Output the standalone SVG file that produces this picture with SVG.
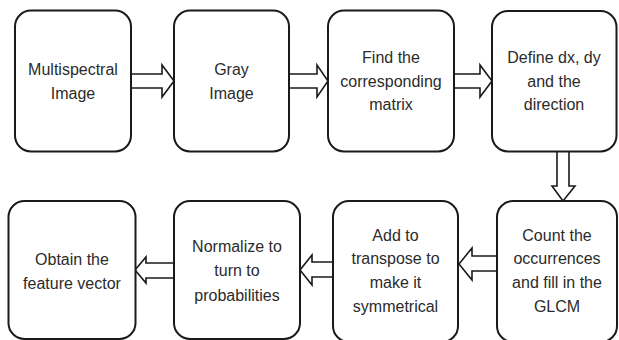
<svg xmlns="http://www.w3.org/2000/svg" width="619" height="340" viewBox="0 0 619 340">
<style>
.box{fill:#fff;stroke:#1a1a1a;stroke-width:2}
.arr{fill:#fff;stroke:#1a1a1a;stroke-width:1.6;stroke-linejoin:miter}
text{font-family:"Liberation Sans",Arial,sans-serif;font-size:16px;fill:#2b2b2b;text-anchor:middle}
</style>
<rect width="619" height="340" fill="#fff"/>
<g id="connectors">
<polygon class="arr" points="131,74 162,74 162,65 174,81 162,97 162,88 131,88"/>
<polygon class="arr" points="289,74 317,74 317,65 328,81 317,97 317,88 289,88"/>
<polygon class="arr" points="454,74 480,74 480,65 492,81 480,97 480,88 454,88"/>
<polygon class="arr" points="557,151 557,186 552,186 563,201 575,186 569,186 569,151"/>
<polygon class="arr" points="497,256 472,256 472,248 459,264 472,280 472,271 497,271"/>
<polygon class="arr" points="333,262 312,262 312,255 300,270 312,285 312,277 333,277"/>
<polygon class="arr" points="174,263 146,263 146,257 135,270 146,283 146,278 174,278"/>
</g>
<g id="n1"><rect class="box" x="15" y="10.5" width="116" height="141" rx="16"/>
<text x="73" y="75">Multispectral</text><text x="73" y="99">Image</text></g>
<g id="n2"><rect class="box" x="174" y="10.5" width="115" height="141" rx="16"/>
<text x="231.5" y="75">Gray</text><text x="231.5" y="99">Image</text></g>
<g id="n3"><rect class="box" x="328" y="10.5" width="126" height="141" rx="16"/>
<text x="391" y="63">Find the</text><text x="391" y="87">corresponding</text><text x="391" y="110">matrix</text></g>
<g id="n4"><rect class="box" x="492" y="11" width="124.5" height="140.5" rx="16"/>
<text x="554" y="63">Define dx, dy</text><text x="554" y="87">and the</text><text x="554" y="110">direction</text></g>
<g id="n5"><rect class="box" x="497" y="201" width="120" height="141" rx="16"/>
<text x="557" y="241">Count the</text><text x="557" y="264">occurrences</text><text x="557" y="288">and fill in the</text><text x="557" y="312">GLCM</text></g>
<g id="n6"><rect class="box" x="333" y="201" width="125" height="141" rx="16"/>
<text x="395.5" y="241">Add to</text><text x="395.5" y="264">transpose to</text><text x="395.5" y="288">make it</text><text x="395.5" y="312">symmetrical</text></g>
<g id="n7"><rect class="box" x="174" y="201" width="126" height="138" rx="16"/>
<text x="237" y="252">Normalize to</text><text x="237" y="276">turn to</text><text x="237" y="301">probabilities</text></g>
<g id="n8"><rect class="box" x="8.5" y="201" width="127" height="138" rx="16"/>
<text x="72" y="265">Obtain the</text><text x="72" y="289">feature vector</text></g>
</svg>
